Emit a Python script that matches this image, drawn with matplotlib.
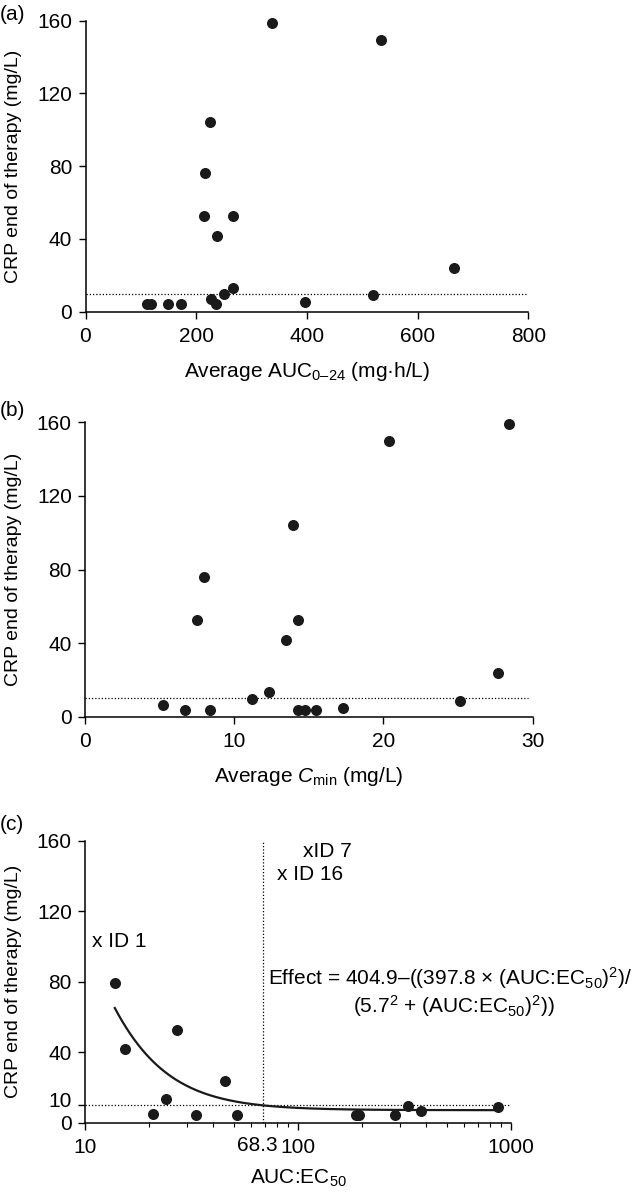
import matplotlib
matplotlib.use("Agg")
import matplotlib.pyplot as plt
import matplotlib.transforms as mtransforms
import numpy as np

FONT = "Liberation Sans"
plt.rcParams["font.family"] = [FONT, "DejaVu Sans"]
plt.rcParams["mathtext.fontset"] = "custom"
plt.rcParams["mathtext.rm"] = FONT
plt.rcParams["mathtext.it"] = FONT + ":italic"
plt.rcParams["font.size"] = 15

# panel (a): average AUC0-24 vs CRP
auc = [336.7, 534.7, 224.3, 216.2, 214.0, 266.6, 238.1, 665.4, 266.6,
       250.5, 519.4, 227.2, 235.2, 396.6, 111.8, 117.6, 149.7, 171.7]
crp_a = [158.9, 149.6, 104.4, 76.4, 52.5, 52.5, 41.8, 23.8, 13.3,
         9.5, 9.1, 6.9, 4.0, 5.1, 4.0, 4.0, 4.0, 4.0]

# panel (b): average Cmin vs CRP
cmin = [28.38, 20.38, 13.97, 7.97, 7.49, 14.24, 13.49, 27.65, 12.35,
        11.22, 25.14, 5.24, 6.70, 8.35, 14.3, 14.73, 15.46, 17.27]
crp_b = [158.9, 149.7, 104.1, 76.1, 52.7, 52.7, 41.8, 23.6, 13.3,
         9.4, 8.8, 6.3, 3.8, 3.8, 3.8, 3.8, 3.8, 4.9]

# panel (c): AUC:EC50 vs CRP
ratio = [13.9, 15.35, 20.9, 24.1, 27.1, 33.1, 45.2, 51.8,
         186.6, 194.0, 286.0, 327.0, 377.0, 865.0]
crp_c = [79.0, 41.7, 4.9, 13.3, 52.6, 4.1, 23.7, 4.1,
         4.1, 4.1, 4.1, 9.6, 6.6, 8.8]

# fitted model from the equation printed on the chart
E0, EMAX, EC50 = 404.9, 397.8, 5.7
fit_x = np.logspace(np.log10(13.8), np.log10(865), 200)
fit_y = E0 - (EMAX * fit_x**2) / (EC50**2 + fit_x**2)

W, H = 632, 1201
fig = plt.figure(figsize=(W / 100, H / 100), dpi=100)


def box(x0, ytop, x1, ybot):
    return [x0 / W, 1 - ybot / H, (x1 - x0) / W, (ybot - ytop) / H]


def style(ax):
    for s in ["top", "right"]:
        ax.spines[s].set_visible(False)
    for s in ["left", "bottom"]:
        ax.spines[s].set_linewidth(1.1)
    ax.tick_params(direction="out", length=5, width=1.0)
    ax.tick_params(axis="x", pad=6)
    ax.tick_params(axis="y", pad=4.5)
    ax.set_ylim(0, 160)
    ax.set_yticks([0, 40, 80, 120, 160])
    ax.set_ylabel("CRP end of therapy (mg/L)", fontsize=14, labelpad=11)


dot = dict(color="black", lw=0.9, ls=(0, (1, 1.6)))
mk = dict(s=48, color="#1a1a1a", zorder=3, clip_on=False)

# (a)
ax1 = fig.add_axes(box(85.5, 20.7, 528.3, 311.7))
style(ax1)
ax1.set_xlim(0, 800)
ax1.set_xticks([0, 200, 400, 600, 800])
ax1.plot([0, 800], [10, 10], **dot)
ax1.scatter(auc, crp_a, **mk)
ax1.set_xlabel("Average AUC$_{0\u201324}$ (mg\u00b7h/L)", labelpad=10)
fig.text(0.0, 1 - 14 / H, "(a)", va="center", ha="left")

# (b)
ax2 = fig.add_axes(box(85, 422.3, 532.7, 716.7))
style(ax2)
ax2.set_xlim(0, 30)
ax2.set_xticks([0, 10, 20, 30])
ax2.plot([0, 29.7], [10, 10], **dot)
ax2.scatter(cmin, crp_b, **mk)
ax2.set_xlabel("Average $\\mathit{C}_{\\mathrm{min}}$ (mg/L)", labelpad=10)
fig.text(0.0, 1 - 410 / H, "(b)", va="center", ha="left")

# (c)
ax3 = fig.add_axes(box(85, 840.7, 511, 1122.7))
style(ax3)
ax3.set_xscale("log")
ax3.set_xlim(10, 1000)
ax3.set_xticks([10, 100, 1000])
ax3.set_xticklabels(["10", "100", "1000"])
ax3.tick_params(which="minor", length=3, width=0.8)
ax3.set_yticks([0, 10, 40, 80, 120, 160])
for lab in ax3.get_yticklabels():
    if lab.get_text() == "10":
        lab.set_transform(lab.get_transform() +
                          mtransforms.ScaledTranslation(0, 4.3 / 72, fig.dpi_scale_trans))
ax3.plot([10, 1000], [10, 10], **dot)
ax3.plot([68.3, 68.3], [0, 160], **dot)
ax3.plot(fit_x, fit_y, color="#1a1a1a", lw=1.6)
ax3.scatter(ratio, crp_c, **mk)
ax3.annotate("68.3", xy=(68.3, 0), xycoords=("data", "axes fraction"),
             xytext=(10.5, -9.5), textcoords="offset points", ha="right", va="top")
ax3.set_xlabel("AUC:EC$_{50}$", labelpad=8)
ax3.text(10.77, 103, "x ID 1", va="center", ha="left")
ax3.text(106, 154, "xID 7", va="center", ha="left")
ax3.text(79.8, 141, "x ID 16", va="center", ha="left")
ax3.text(72.4, 82, "Effect = 404.9\u2013((397.8 \u00d7 (AUC:EC$_{50}$)$^{2}$)/",
         va="center", ha="left", clip_on=False)
ax3.text(181.6, 66, "(5.7$^{2}$ + (AUC:EC$_{50}$)$^{2}$))",
         va="center", ha="left", clip_on=False)
fig.text(0.0, 1 - 825 / H, "(c)", va="center", ha="left")

fig.savefig("out.png", dpi=100)
